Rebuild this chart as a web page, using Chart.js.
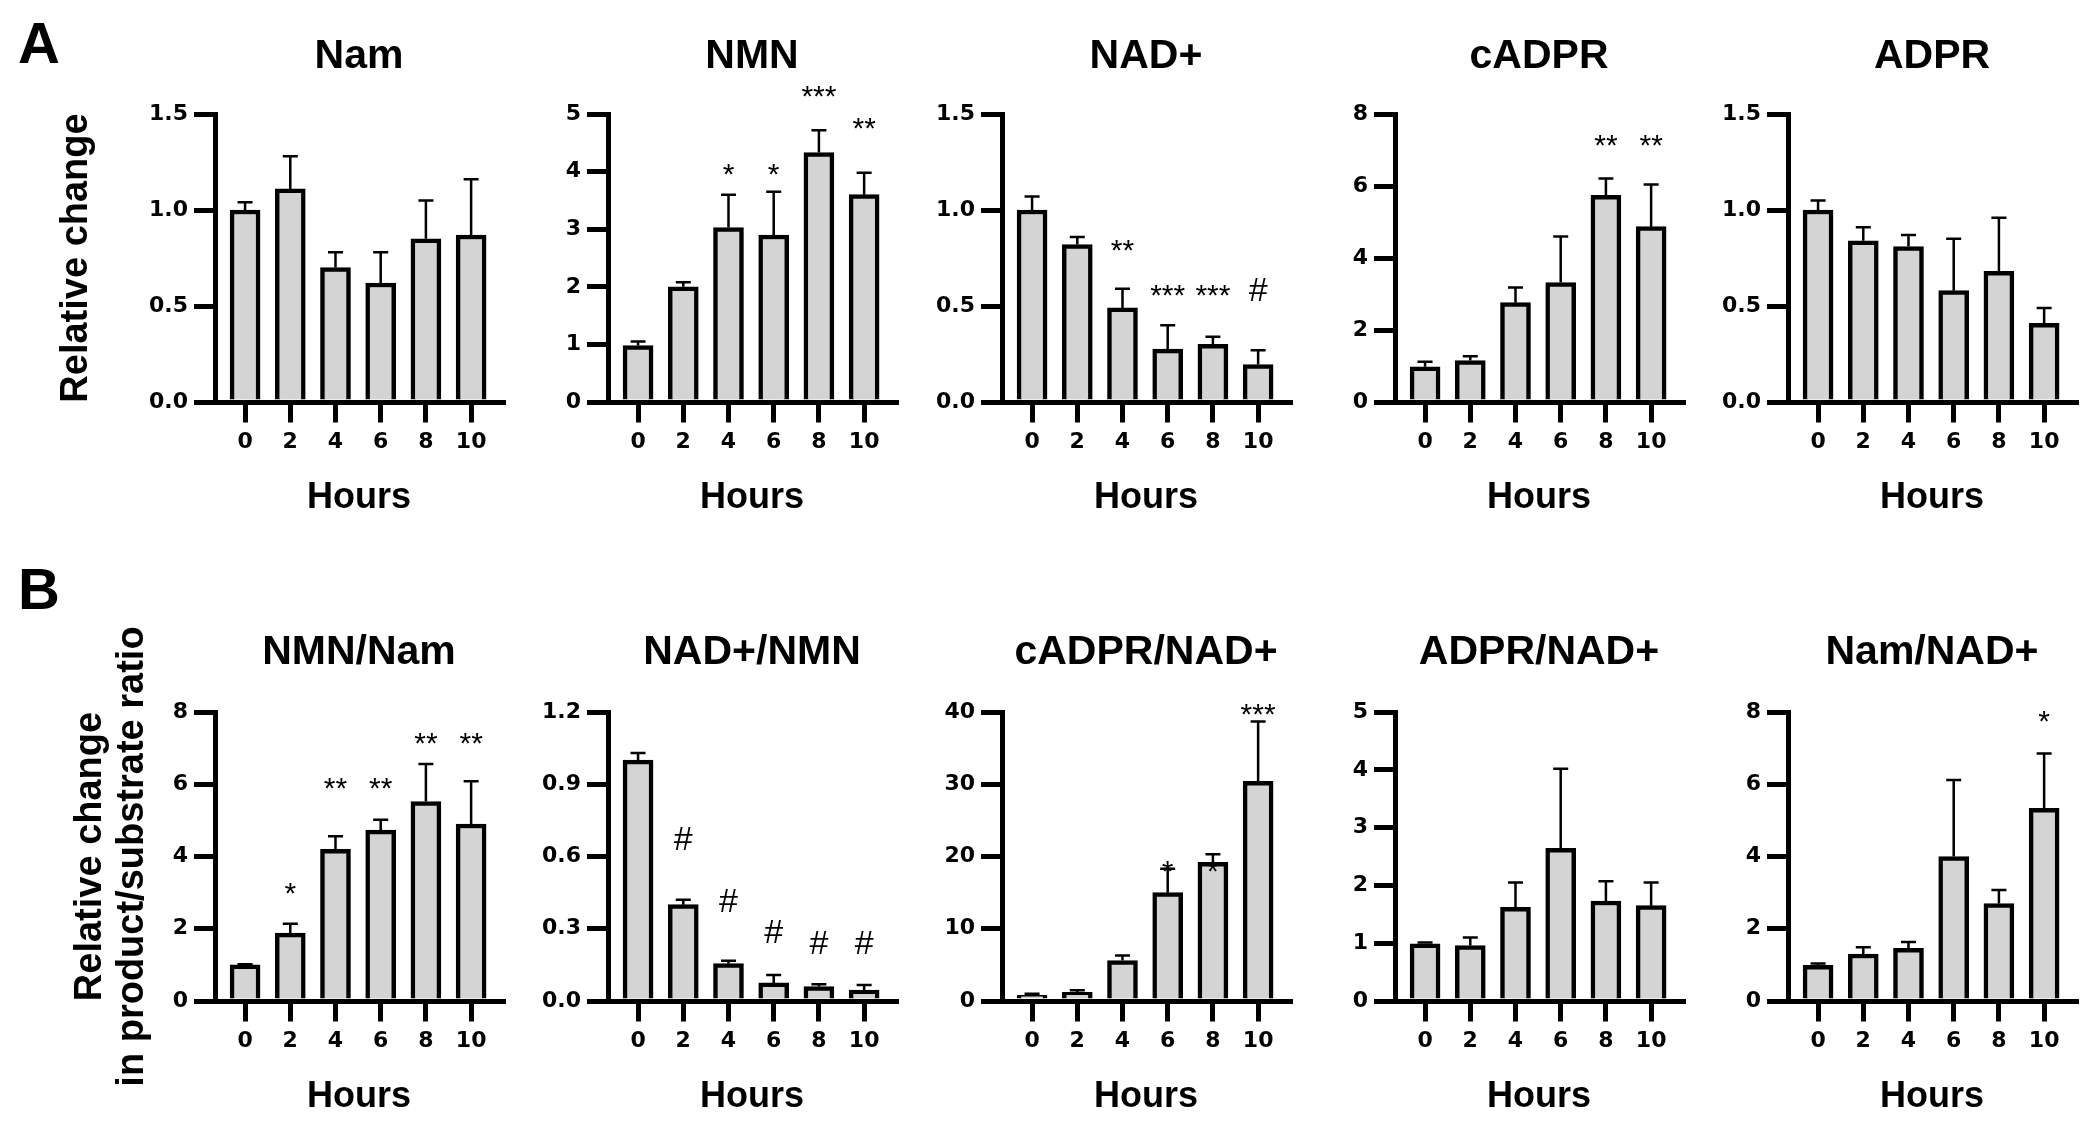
<!DOCTYPE html>
<html>
<head>
<meta charset="utf-8">
<script src="https://cdn.jsdelivr.net/npm/chart.js@4.4.1/dist/chart.umd.min.js"></script>
<style>
  body { margin: 0; width: 2100px; height: 1123px; background: #fff; overflow: hidden; position: relative;
         font-family: "Liberation Sans", Arial, sans-serif; }
  canvas { position: absolute; }
  .letter { position: absolute; font-weight: bold; font-size: 58px; line-height: 1; color: #000; }
</style>
</head>
<body>
<div class="letter" style="left:18px;top:14px">A</div>
<div class="letter" style="left:18px;top:560px">B</div>
<script>
const hours = [0, 2, 4, 6, 8, 10];

// ===== ROW A =====
const namMean = [1.0, 1.11, 0.70, 0.62, 0.85, 0.87];
const namErr = [1.04, 1.28, 0.78, 0.78, 1.05, 1.16];
const namSig = ["", "", "", "", "", ""];
const namSigAt = [0, 0, 0, 0, 0, 0];
const namTicks = ["0.0", "0.5", "1.0", "1.5"];

const nmnMean = [0.98, 2.0, 3.03, 2.9, 4.33, 3.6];
const nmnErr = [1.05, 2.08, 3.6, 3.65, 4.72, 3.98];
const nmnSig = ["", "", "*", "*", "***", "**"];
const nmnSigAt = [0, 0, 4.0, 4.0, 5.34, 4.8];
const nmnTicks = ["0", "1", "2", "3", "4", "5"];

const nadMean = [1.0, 0.82, 0.49, 0.275, 0.30, 0.195];
const nadErr = [1.07, 0.86, 0.59, 0.40, 0.34, 0.27];
const nadSig = ["", "", "**", "***", "***", "#"];
const nadSigAt = [0, 0, 0.80, 0.57, 0.57, 0.56];
const nadTicks = ["0.0", "0.5", "1.0", "1.5"];

const cadprMean = [0.98, 1.15, 2.76, 3.32, 5.74, 4.87];
const cadprErr = [1.12, 1.27, 3.18, 4.6, 6.21, 6.04];
const cadprSig = ["", "", "", "", "**", "**"];
const cadprSigAt = [0, 0, 0, 0, 7.19, 7.19];
const cadprTicks = ["0", "2", "4", "6", "8"];

const adprMean = [1.0, 0.84, 0.81, 0.58, 0.68, 0.41];
const adprErr = [1.05, 0.91, 0.87, 0.85, 0.96, 0.49];
const adprSig = ["", "", "", "", "", ""];
const adprSigAt = [0, 0, 0, 0, 0, 0];
const adprTicks = ["0.0", "0.5", "1.0", "1.5"];

// ===== ROW B =====
const nmnNamMean = [1.0, 1.88, 4.2, 4.73, 5.52, 4.9];
const nmnNamErr = [1.02, 2.14, 4.56, 5.02, 6.56, 6.08];
const nmnNamSig = ["", "*", "**", "**", "**", "**"];
const nmnNamSigAt = [0, 3.04, 5.96, 5.96, 7.19, 7.19];
const nmnNamTicks = ["0", "2", "4", "6", "8"];

const nadNmnMean = [1.0, 0.40, 0.155, 0.075, 0.06, 0.045];
const nadNmnErr = [1.03, 0.42, 0.167, 0.108, 0.07, 0.066];
const nadNmnSig = ["", "#", "#", "#", "#", "#"];
const nadNmnSigAt = [0, 0.655, 0.40, 0.27, 0.225, 0.225];
const nadNmnTicks = ["0.0", "0.3", "0.6", "0.9", "1.2"];

const cadprNadMean = [0.8, 1.2, 5.6, 15.0, 19.2, 30.4];
const cadprNadErr = [1.0, 1.5, 6.3, 18.3, 20.3, 38.7];
const cadprNadSig = ["", "", "", "*", "*", "***"];
const cadprNadSigAt = [0, 0, 0, 18.3, 18.3, 40.0];
const cadprNadTicks = ["0", "10", "20", "30", "40"];

const adprNadMean = [0.99, 0.96, 1.62, 2.64, 1.73, 1.65];
const adprNadErr = [1.01, 1.1, 2.05, 4.02, 2.07, 2.05];
const adprNadSig = ["", "", "", "", "", ""];
const adprNadSigAt = [0, 0, 0, 0, 0, 0];
const adprNadTicks = ["0", "1", "2", "3", "4", "5"];

const namNadMean = [0.99, 1.3, 1.46, 4.0, 2.7, 5.33];
const namNadErr = [1.04, 1.49, 1.63, 6.12, 3.07, 6.85];
const namNadSig = ["", "", "", "", "", "*"];
const namNadSigAt = [0, 0, 0, 0, 0, 7.8];
const namNadTicks = ["0", "2", "4", "6", "8"];

const panels = [
  { title: "Nam", mean: namMean, err: namErr, sig: namSig, sigAt: namSigAt, ticks: namTicks, col: 0, row: 0 },
  { title: "NMN", mean: nmnMean, err: nmnErr, sig: nmnSig, sigAt: nmnSigAt, ticks: nmnTicks, col: 1, row: 0 },
  { title: "NAD+", mean: nadMean, err: nadErr, sig: nadSig, sigAt: nadSigAt, ticks: nadTicks, col: 2, row: 0 },
  { title: "cADPR", mean: cadprMean, err: cadprErr, sig: cadprSig, sigAt: cadprSigAt, ticks: cadprTicks, col: 3, row: 0 },
  { title: "ADPR", mean: adprMean, err: adprErr, sig: adprSig, sigAt: adprSigAt, ticks: adprTicks, col: 4, row: 0 },
  { title: "NMN/Nam", mean: nmnNamMean, err: nmnNamErr, sig: nmnNamSig, sigAt: nmnNamSigAt, ticks: nmnNamTicks, col: 0, row: 1 },
  { title: "NAD+/NMN", mean: nadNmnMean, err: nadNmnErr, sig: nadNmnSig, sigAt: nadNmnSigAt, ticks: nadNmnTicks, col: 1, row: 1 },
  { title: "cADPR/NAD+", mean: cadprNadMean, err: cadprNadErr, sig: cadprNadSig, sigAt: cadprNadSigAt, ticks: cadprNadTicks, col: 2, row: 1 },
  { title: "ADPR/NAD+", mean: adprNadMean, err: adprNadErr, sig: adprNadSig, sigAt: adprNadSigAt, ticks: adprNadTicks, col: 3, row: 1 },
  { title: "Nam/NAD+", mean: namNadMean, err: namNadErr, sig: namNadSig, sigAt: namNadSigAt, ticks: namNadTicks, col: 4, row: 1 }
];

// layout
const FONT = '"Liberation Sans", Arial, sans-serif';
const TICK_FONT = '"DejaVu Sans", "Liberation Sans", sans-serif';
const axisX = [215, 608, 1002, 1395, 1788];
const plotW = 288;
const padRight = 10;
const xScaleH = 130;
const titleSize = 41;
const titleLH = titleSize * 1.2;
const yTitleSize = 38;
const yTitleLH = yTitleSize * 1.1;
const rows = [
  { canvasTop: 0, chartTop: 114, chartBottom: 402, titleY: 57,
    yTitle: "Relative change", yTitleX: 77 },
  { canvasTop: 561, chartTop: 712, chartBottom: 1001, titleY: 653,
    yTitle: ["Relative change", "in product/substrate ratio"], yTitleX: 91 }
];

// error bars + significance marks
const barExtras = {
  id: "barExtras",
  afterDatasetsDraw(chart) {
    const ds = chart.data.datasets[0];
    const y = chart.scales.y;
    const ctx = chart.ctx;
    const meta = chart.getDatasetMeta(0);
    ctx.save();
    ctx.strokeStyle = "#000";
    ctx.lineWidth = 2.5;
    meta.data.forEach((bar, i) => {
      const top = y.getPixelForValue(ds.errTop[i]);
      const base = y.getPixelForValue(ds.data[i].y);
      ctx.beginPath();
      ctx.moveTo(bar.x, base);
      ctx.lineTo(bar.x, top);
      ctx.moveTo(bar.x - 7.5, top);
      ctx.lineTo(bar.x + 7.5, top);
      ctx.stroke();
    });
    ctx.fillStyle = "#000";
    ctx.textAlign = "center";
    ctx.textBaseline = "alphabetic";
    meta.data.forEach((bar, i) => {
      const s = ds.sig[i];
      if (!s) return;
      const cy = y.getPixelForValue(ds.sigAt[i]);
      if (s === "#") {
        ctx.font = "34px " + FONT;
        ctx.fillText(s, bar.x, cy + 7);
      } else {
        ctx.font = "30px " + FONT;
        ctx.fillText(s, bar.x, cy + 12);
      }
    });
    ctx.restore();
  }
};

panels.forEach(p => {
  const r = rows[p.row];
  const first = p.col === 0;
  const yW = first ? axisX[0] : 80;
  const left = axisX[p.col] - yW;
  const width = yW + plotW + padRight;
  const height = r.chartBottom - r.canvasTop + xScaleH;
  const tPadTop = r.titleY - r.canvasTop - titleLH / 2;
  const tPadBottom = r.chartTop - r.canvasTop - titleLH - tPadTop;
  const tickVals = p.ticks.map(Number);

  const cv = document.createElement("canvas");
  cv.width = width;
  cv.height = height;
  cv.style.left = left + "px";
  cv.style.top = r.canvasTop + "px";
  cv.style.width = width + "px";
  cv.style.height = height + "px";
  document.body.appendChild(cv);

  new Chart(cv, {
    type: "bar",
    data: {
      datasets: [{
        data: hours.map((h, i) => ({ x: h, y: p.mean[i] })),
        errTop: p.err,
        sig: p.sig,
        sigAt: p.sigAt,
        backgroundColor: "#d4d4d4",
        borderColor: "#000",
        borderWidth: 4.5,
        barThickness: 30
      }]
    },
    options: {
      responsive: false,
      animation: false,
      events: [],
      layout: { padding: { left: 0, right: padRight, top: 0, bottom: 0 } },
      plugins: {
        legend: { display: false },
        tooltip: { enabled: false },
        title: {
          display: true,
          text: p.title,
          fullSize: false,
          color: "#000",
          font: { family: FONT, size: titleSize, weight: "bold", lineHeight: 1.2 },
          padding: { top: tPadTop, bottom: tPadBottom }
        }
      },
      scales: {
        x: {
          type: "linear",
          min: -1.33,
          max: 11.41,
          offset: false,
          grid: { display: true, drawOnChartArea: false, drawTicks: true, tickLength: 20.5,
                  lineWidth: 5, color: "#000", offset: false },
          border: { display: true, width: 5, color: "#000", z: 1 },
          ticks: { color: "#000", font: { family: TICK_FONT, size: 22, weight: "bold" },
                   padding: 7, maxRotation: 0, autoSkip: false,
                   callback: v => String(v) },
          afterBuildTicks: s => { s.ticks = hours.map(v => ({ value: v })); },
          title: {
            display: true, text: "Hours", color: "#000",
            font: { family: FONT, size: 36, weight: "bold", lineHeight: 1.2 },
            padding: { top: 0, bottom: xScaleH - 96 - 21.6 }
          },
          afterFit: s => { s.height = xScaleH; }
        },
        y: {
          min: 0,
          max: tickVals[tickVals.length - 1],
          grid: { display: true, drawOnChartArea: false, drawTicks: true, tickLength: 21,
                  lineWidth: 5, color: "#000" },
          border: { display: true, width: 5, color: "#000", z: 1 },
          ticks: {
            color: "#000", font: { family: TICK_FONT, size: 22, weight: "bold" }, padding: 6,
            callback: (v, i) => p.ticks[i]
          },
          afterBuildTicks: s => { s.ticks = tickVals.map(v => ({ value: v })); },
          title: first ? {
            display: true, text: r.yTitle, color: "#000",
            font: { family: FONT, size: yTitleSize, weight: "bold", lineHeight: 1.1 },
            padding: { top: r.yTitleX - yTitleLH / 2, bottom: 0 }
          } : { display: false },
          afterFit: s => { s.width = yW; }
        }
      }
    },
    plugins: [barExtras]
  });
});
</script>
</body>
</html>
